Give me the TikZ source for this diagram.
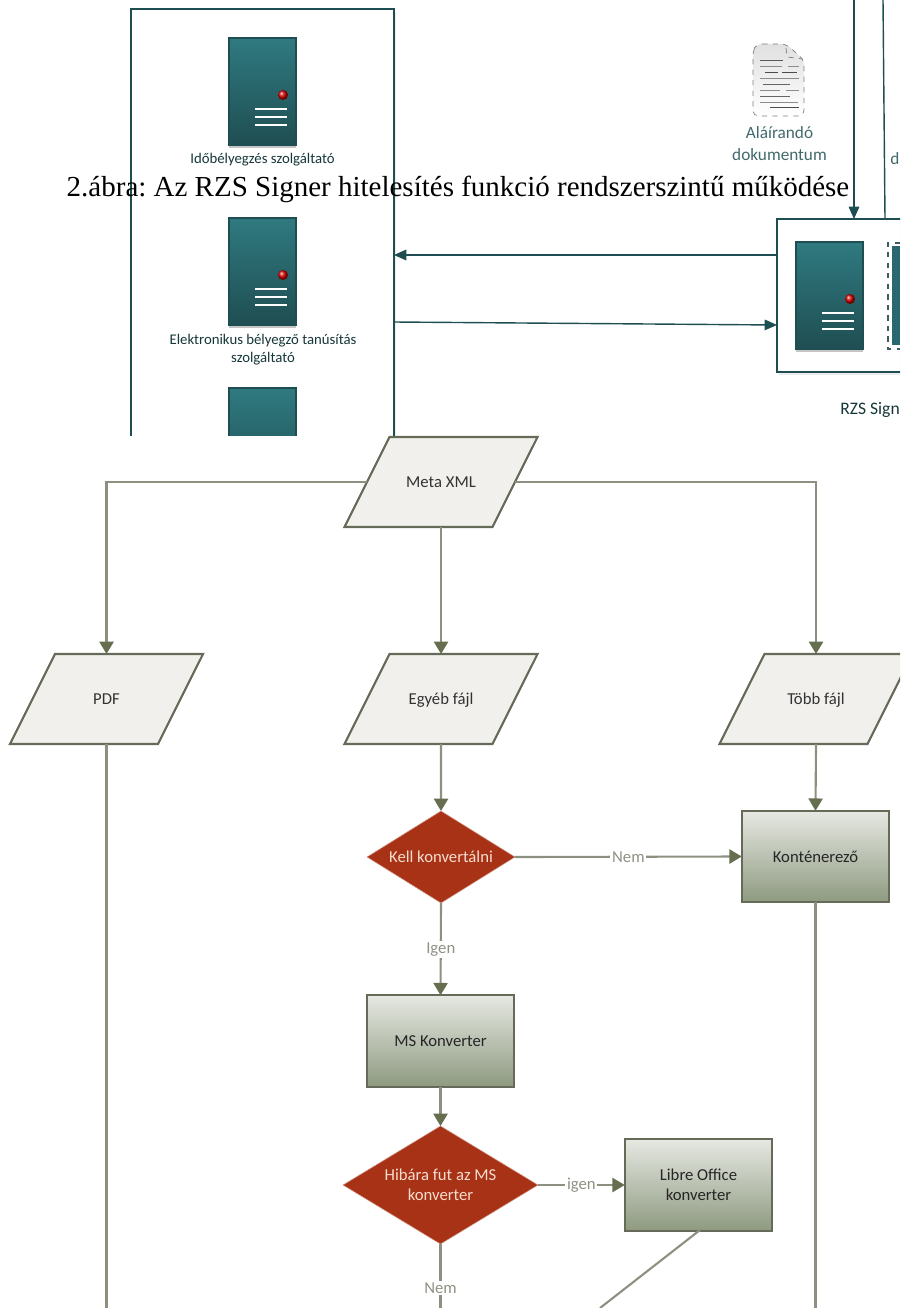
\documentclass[tikz,border=0pt]{standalone}
\usepackage{fontspec}
\setmainfont{Liberation Serif}
\newfontfamily\labelfont{Carlito}
\usetikzlibrary{arrows.meta,shapes.geometric,shadows}
\definecolor{tealdark}{HTML}{1F4E52}
\definecolor{tealtop}{HTML}{2F7A80}
\definecolor{flowline}{HTML}{8C9080}
\definecolor{flowtip}{HTML}{666E50}
\definecolor{flowedge}{HTML}{666A58}
\definecolor{flowtext}{HTML}{8E9284}
\definecolor{datafill}{HTML}{F1F0EC}
\definecolor{boxtop}{HTML}{E6E8E2}
\definecolor{boxbottom}{HTML}{8E9A80}
\definecolor{decisionred}{HTML}{A83215}
\definecolor{decisiontext}{HTML}{F6DDD0}
\begin{document}
\begin{tikzpicture}
		% One pixel of the picture is one unit, y runs downwards
		[x=0.02cm, y=-0.02cm,
		panel/.style={draw=tealdark, fill=white, line width=0.8pt, outer sep=0pt, inner sep=0pt,
			drop shadow={shadow xshift=1pt, shadow yshift=-1.5pt, opacity=0.15}},
		panelline/.style={tealdark, line width=0.8pt},
		paneltext/.style={font=\labelfont\fontsize{8.4}{10.4}\selectfont, text=tealdark!70!black, align=center},
		server/.pic={
			\shade[top color=tealtop, bottom color=tealdark, draw=tealdark, line width=0.6pt,
				drop shadow={shadow xshift=0pt, shadow yshift=-1.5pt, opacity=0.45}] (0,0) rectangle (67,107);
			\shade[ball color=red!85!black] (54,57) circle (5);
			\draw[white, line width=1.2pt] (26,71) -- (58,71);
			\draw[white, line width=1.2pt] (26,79) -- (58,79);
			\draw[white, line width=1.2pt] (26,87) -- (58,87);
		},
		flow/.style={flowline, line width=1.2pt},
		flowarrow/.style={flow, -{Triangle[length=7pt, width=8pt, color=flowtip]}},
		flowlabel/.style={font=\labelfont\fontsize{9.5}{11.5}\selectfont, text=flowtext, fill=white, inner sep=1pt},
		inputdata/.style={trapezium, trapezium left angle=63.4, trapezium right angle=116.6,
			text width=2.06cm, text height=1cm, text depth=0.8cm, align=flush center, inner sep=0pt, outer sep=0pt,
			fill=datafill, draw=flowedge, line width=1.2pt,
			font=\labelfont\fontsize{9.5}{11.5}\selectfont, text=black!80},
		process/.style={rectangle, minimum width=2.95cm, minimum height=1.83cm, inner sep=0pt, outer sep=0pt,
			top color=boxtop, bottom color=boxbottom, draw=flowedge, line width=1.2pt,
			font=\labelfont\fontsize{9.5}{11.5}\selectfont, text=black!85, align=center},
		decision/.style={diamond, inner sep=0pt, outer sep=0pt, aspect=1.6,
			fill=decisionred, draw=decisionred!50!white, line width=0.3pt,
			font=\labelfont\fontsize{9.5}{11.5}\selectfont, text=decisiontext, align=center}]

		\useasboundingbox (0,0) rectangle (900,1308);
		\clip (0,0) rectangle (900,1308);

		% First the cut out part of the system picture
		\begin{scope}
			\clip (0,0) rectangle (900,435);

			\node[panel, anchor=north west, minimum width=5.26cm, minimum height=12cm] (services) at (131,9) {};
			\node[panel, anchor=north west, minimum width=4cm, minimum height=3.06cm] (signerbox) at (777,219) {};

			\pic at (229,38) {server};
			\pic at (229,218) {server};
			\pic at (229,388) {server};
			\pic at (796,242) {server};

			% The second server of the signer is cut off by the edge
			\fill[tealtop!60!tealdark] (892,246) rectangle (900,345);
			\draw[tealdark!70!gray, dashed, line width=0.8pt] (900,243) -- (888,243) -- (888,349) -- (900,349);

			\node[paneltext] (stamplabel) at (262.5,160) {Időbélyegzés szolgáltató};
			\node[paneltext] (certlabel) at (263,350) {Elektronikus bélyegző tanúsítás\\szolgáltató};
			\node[paneltext, font=\labelfont\fontsize{9.8}{12.6}\selectfont, text=tealdark!85] (doclabel) at (779.5,144) {Aláírandó\\dokumentum};
			\node[paneltext, font=\labelfont\fontsize{9.8}{12}\selectfont, anchor=west, inner sep=0pt, text=tealdark!85] (cutlabel) at (890,159) {d};
			\node[paneltext, font=\labelfont\fontsize{10}{12}\selectfont, anchor=west, inner sep=0pt] (signerlabel) at (840,410) {RZS Sign};

			% The document icon
			\shade[top color=black!12, bottom color=white, draw=black!50, dashed, line width=0.4pt, rounded corners=3pt]
				(757,44) -- (786,44) -- (804,60) -- (804,116) -- (753,116) -- (753,50) -- cycle;
			\draw[black!50, dashed, line width=0.4pt] (786,48) -- (787,57) -- (803,59);
			\draw[black!65, line width=0.5pt] (760,60) -- (783,60);
			\draw[black!45, line width=0.5pt] (760,66) -- (782,66) (788,66) -- (799,66);
			\draw[black!70, line width=0.5pt] (765,72) -- (778,72) (782,72) -- (797,72);
			\draw[black!45, line width=0.5pt] (760,78) -- (799,78);
			\draw[black!60, line width=0.5pt] (763,84) -- (790,84);
			\draw[black!45, line width=0.5pt] (760,90) -- (780,90) (786,90) -- (799,90);
			\draw[black!60, line width=0.5pt] (760,96) -- (790,96);
			\draw[black!45, line width=0.5pt] (760,102) -- (798,102);
			\draw[black!70, line width=0.5pt] (770,107) -- (799,107);

			% The connectors of the system picture
			\coordinate (backstart) at (signerbox.west |- 0,255);
			\coordinate (backend) at (services.east |- 0,255);
			\coordinate (forwardstart) at (services.east |- 0,322);
			\coordinate (forwardend) at (signerbox.west |- 0,325);
			\coordinate (uploadstart) at (854,0);
			\coordinate (uploadend) at (854,219);
			\coordinate (resultstart) at (885,219);
			\coordinate (resultend) at (883,0);
			\draw[panelline, -{Triangle[length=7pt, width=6pt]}] (backstart) -- (backend);
			\draw[panelline, -{Triangle[length=7pt, width=6pt]}] (forwardstart) -- (forwardend);
			\draw[panelline, -{Triangle[length=7pt, width=6pt]}] (uploadstart) -- (uploadend);
			\draw[panelline] (resultstart) -- (resultend);
		\end{scope}

		% The caption lies over everything
		\node[font=\fontsize{16.5}{19}\selectfont, inner sep=0pt] (caption) at (458,189.5)
			{\frenchspacing 2.ábra: Az RZS Signer hitelesítés funkció rendszerszintű működése};

		% Now the flow chart
		\node[inputdata] (meta) at (441,482) {Meta XML};
		\node[inputdata] (pdf) at (106.5,699) {PDF};
		\node[inputdata] (other) at (441,699) {Egyéb fájl};
		\node[inputdata] (many) at (816,699) {Több fájl};

		\node[decision, minimum width=2.96cm, minimum height=1.84cm] (needconv) at (441,857) {Kell konvertálni};
		\node[process] (container) at (815.5,856.5) {Konténerező};
		\node[process] (msconv) at (440.5,1041) {MS Konverter};
		\node[decision, minimum width=3.9cm, minimum height=2.36cm] (msfail) at (440.5,1185) {Hibára fut az MS\\konverter};
		\node[process] (libre) at (698.5,1185) {Libre Office\\konverter};

		% Free ends at the lower edge
		\coordinate (pdfend) at (pdf.south |- 0,1308);
		\coordinate (msfailend) at (msfail.south |- 0,1308);
		\coordinate (containerend) at (container.south |- 0,1308);
		\coordinate (librestart) at (700,1230);
		\coordinate (libreend) at (600,1308);

		\draw[flowarrow] (meta.west) -| (pdf.north);
		\draw[flowarrow] (meta.south) -- (other.north);
		\draw[flowarrow] (meta.east) -| (many.north);
		\draw[flow] (pdf.south) -- (pdfend);
		\draw[flowarrow] (other.south) -- (needconv.north);
		\draw[flowarrow] (many.south) -- (container.north);
		\draw[flowarrow] (needconv.east) -- node[flowlabel] {Nem} (container.west);
		\draw[flowarrow] (needconv.south) -- node[flowlabel] {Igen} (msconv.north);
		\draw[flowarrow] (msconv.south) -- (msfail.north);
		\draw[flowarrow] (msfail.east) -- node[flowlabel] {igen} (libre.west);
		\draw[flow] (msfail.south) -- node[flowlabel, pos=0.69] {Nem} (msfailend);
		\draw[flow] (container.south) -- (containerend);
		\draw[flow] (librestart) -- (libreend);
	\end{tikzpicture}
\end{document}
